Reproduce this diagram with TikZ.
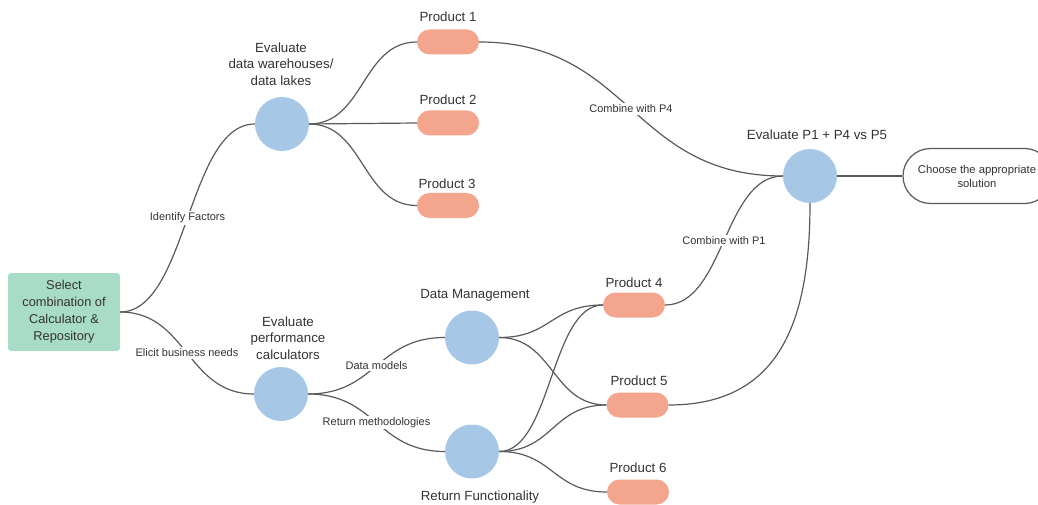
\documentclass[tikz,border=0pt]{standalone}
\usepackage{fontspec}
\setmainfont{Liberation Sans}
\usetikzlibrary{shapes.misc}
\definecolor{selgreen}{HTML}{A9DCC6}
\definecolor{circblue}{HTML}{A6C8E6}
\definecolor{pillred}{HTML}{F4A58D}
\definecolor{linegray}{HTML}{5A5A5A}
\definecolor{txtgray}{HTML}{333333}
\begin{document}
\begin{tikzpicture}[x=1pt,y=-1pt,
  circ/.style={circle,fill=circblue,minimum size=54pt,inner sep=0pt},
  pill/.style={rounded rectangle,fill=pillred,minimum width=62pt,minimum height=25pt,inner sep=0pt},
  lab/.style={text=txtgray,align=center,font=\fontsize{13.3}{16.5}\selectfont},
  elab/.style={text=txtgray,fill=white,inner sep=1.5pt,font=\fontsize{11}{13}\selectfont},
  conn/.style={draw=linegray,line width=1.2pt}]
\useasboundingbox (0,0) rectangle (1038,505);
\clip (0,0) rectangle (1038,505);
% nodes
\node[rectangle,rounded corners=3pt,fill=selgreen,minimum width=112pt,minimum height=78pt,text=txtgray,align=center,font=\fontsize{12.8}{17}\selectfont] (sel) at (64,312) {Select\\combination of\\Calculator \&\\Repository};
\node[circ] (c1) at (282,124) {};
\node[lab] (c1l) at (281,64) {Evaluate\\data warehouses/\\data lakes};
\node[circ] (c2) at (281,394) {};
\node[lab] (c2l) at (288,338) {Evaluate\\performance\\calculators};
\node[pill] (p1) at (448,42) {};
\node[lab] (p1l) at (448,17) {Product 1};
\node[pill] (p2) at (448,123) {};
\node[lab] (p2l) at (448,100) {Product 2};
\node[pill] (p3) at (448,205.5) {};
\node[lab] (p3l) at (447,184) {Product 3};
\node[circ] (dm) at (472,337.5) {};
\node[lab] (dml) at (475,295) {Data Management};
\node[circ] (rf) at (472,451.5) {};
\node[lab] (rfl) at (480,497) {Return Functionality};
\node[pill] (p4) at (634,305) {};
\node[lab] (p4l) at (634,283) {Product 4};
\node[pill] (p5) at (637.5,405) {};
\node[lab] (p5l) at (639,381) {Product 5};
\node[pill] (p6) at (638,492) {};
\node[lab] (p6l) at (638,468) {Product 6};
\node[circ] (ev) at (810,176) {};
\node[lab] (evl) at (817,135) {Evaluate P1 + P4 vs P5};
\node[rounded rectangle,draw=linegray,line width=1.2pt,fill=white,minimum width=149pt,minimum height=55pt,inner sep=0pt] (ch) at (977.5,176) {};
\node[text=txtgray,align=center,font=\fontsize{11.3}{14}\selectfont] (chl) at (977,176) {Choose the appropriate\\solution};
% connectors
\draw[conn] (sel.east) .. controls +(67,0) and +(-67,0) .. (c1.west) node[elab,pos=0.5] {Identify Factors};
\draw[conn] (sel.east) .. controls +(67,0) and +(-67,0) .. (c2.west) node[elab,pos=0.5] {Elicit business needs};
\draw[conn] (c1.east) .. controls +(55,0) and +(-55,0) .. (p1.west);
\draw[conn] (c1.east) -- (p2.west);
\draw[conn] (c1.east) .. controls +(55,0) and +(-55,0) .. (p3.west);
\draw[conn] (p1.east) .. controls +(152,0) and +(-152,0) .. (ev.west) node[elab,pos=0.5] {Combine with P4};
\draw[conn] (c2.east) .. controls +(68,0) and +(-68,0) .. (dm.west) node[elab,pos=0.5] {Data models};
\draw[conn] (c2.east) .. controls +(68,0) and +(-68,0) .. (rf.west) node[elab,pos=0.5] {Return methodologies};
\draw[conn] (dm.east) .. controls +(52,0) and +(-52,0) .. (p4.west);
\draw[conn] (dm.east) .. controls +(54,0) and +(-54,0) .. (p5.west);
\draw[conn] (rf.east) .. controls +(52,0) and +(-52,0) .. (p4.west);
\draw[conn] (rf.east) .. controls +(54,0) and +(-54,0) .. (p5.west);
\draw[conn] (rf.east) .. controls +(54,0) and +(-54,0) .. (p6.west);
\draw[conn] (p4.east) .. controls +(59,0) and +(-59,0) .. (ev.west) node[elab,pos=0.5] {Combine with P1};
\draw[conn] (p5.east) .. controls +(110,0) and +(0,120) .. (ev.south);
\draw[conn] (ev.east) -- (ch.west);
\end{tikzpicture}
\end{document}
